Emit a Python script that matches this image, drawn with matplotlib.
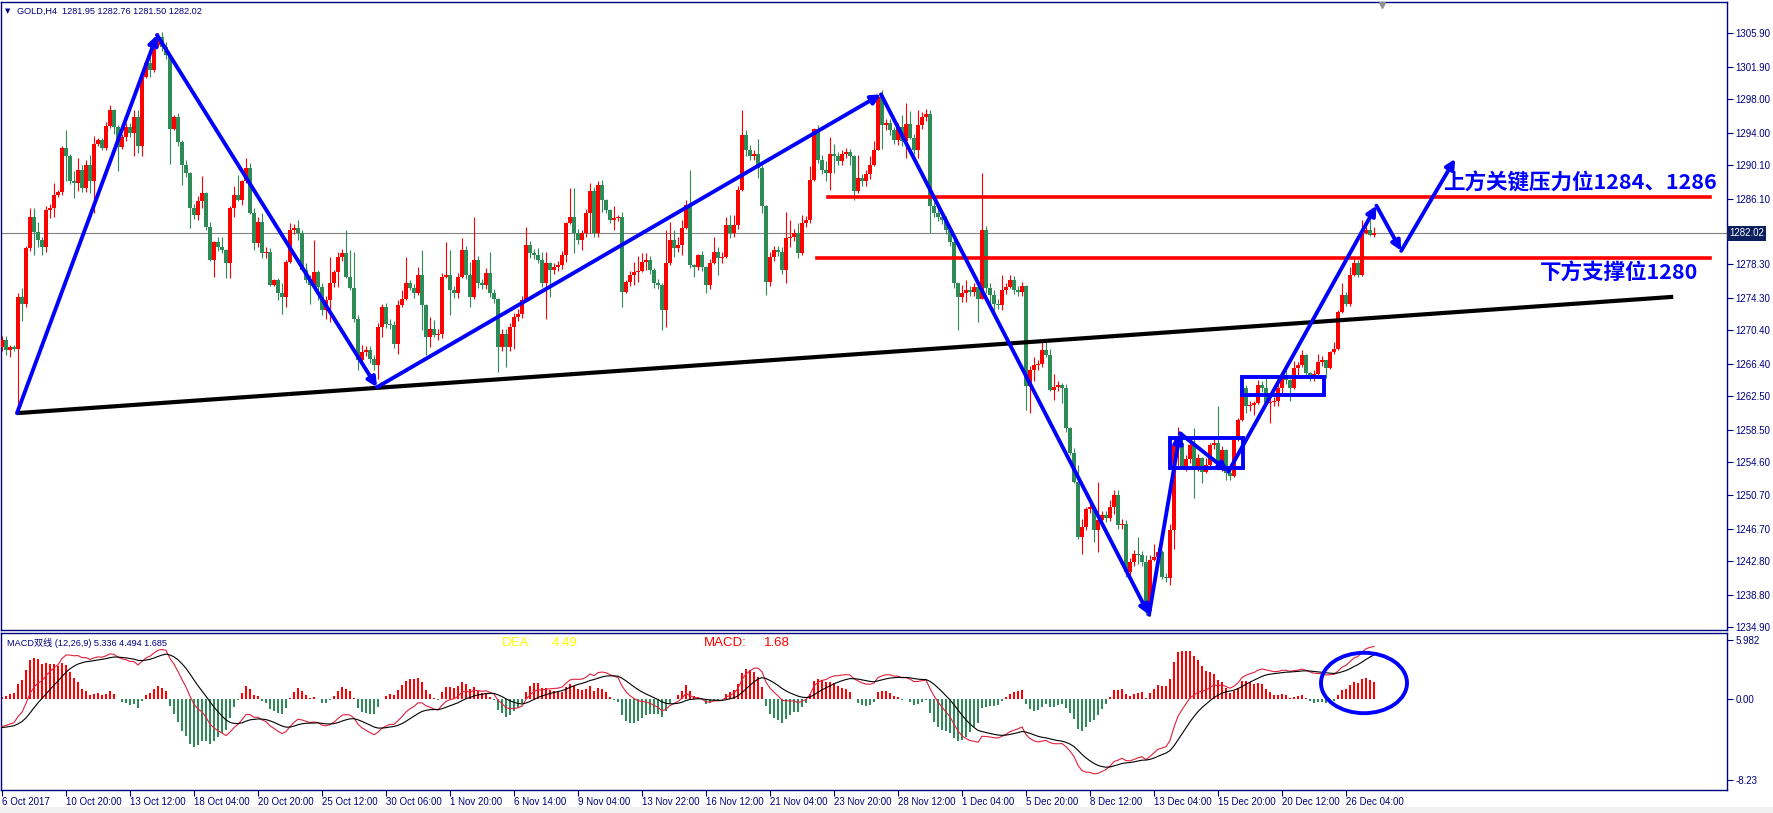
import numpy as np
import matplotlib.pyplot as plt
from matplotlib.patches import Rectangle, Ellipse
from matplotlib.transforms import blended_transform_factory

# GOLD H4 closes (open = previous close)
first_open = 1268.4
closes = [
    1269.2, 1268.0, 1268.4, 1268.2, 1274.4, 1273.5, 1280.2, 1284.0, 1282.2, 1281.2,
    1280.4, 1284.8, 1285.0, 1286.6, 1286.9, 1292.2, 1291.2, 1288.2, 1288.0, 1289.6,
    1287.4, 1290.2, 1288.2, 1292.7, 1293.1, 1292.2, 1294.8, 1296.7, 1294.7, 1292.3,
    1293.5, 1294.7, 1294.0, 1295.9, 1292.4, 1300.7, 1302.3, 1301.5, 1304.5, 1305.5,
    1304.3, 1303.3, 1294.5, 1295.9, 1292.9, 1290.2, 1289.2, 1285.0, 1284.2, 1285.8,
    1286.8, 1282.8, 1278.8, 1281.0, 1280.4, 1280.0, 1278.4, 1285.0, 1286.6, 1286.0,
    1288.2, 1289.8, 1284.4, 1280.8, 1283.4, 1279.6, 1279.8, 1275.8, 1276.4, 1274.8,
    1274.4, 1278.6, 1282.4, 1282.6, 1282.0, 1277.6, 1276.4, 1275.8, 1277.4, 1275.6,
    1272.8, 1274.0, 1276.0, 1277.4, 1279.2, 1279.6, 1276.8, 1275.4, 1271.8, 1266.8,
    1267.8, 1268.0, 1267.0, 1266.2, 1270.8, 1273.2, 1271.2, 1271.0, 1268.8, 1273.4,
    1274.2, 1276.0, 1275.4, 1274.8, 1277.0, 1273.4, 1269.6, 1270.6, 1269.8, 1270.0,
    1276.8, 1277.0, 1275.2, 1274.8, 1276.8, 1280.0, 1277.0, 1274.4, 1278.8, 1276.0,
    1275.8, 1277.3, 1274.8, 1274.2, 1268.4, 1270.0, 1268.4, 1270.8, 1272.0, 1272.4,
    1274.0, 1280.6, 1279.6, 1279.4, 1278.8, 1276.0, 1278.4, 1277.6, 1278.0, 1278.2,
    1279.4, 1283.2, 1284.0, 1282.0, 1281.2, 1282.0, 1284.4, 1287.0, 1282.0, 1287.8,
    1286.0, 1284.8, 1283.6, 1283.8, 1283.9, 1275.0, 1276.2, 1277.0, 1277.4, 1277.5,
    1278.6, 1278.8, 1277.6, 1276.0, 1275.8, 1272.8, 1278.4, 1281.2, 1280.2, 1280.6,
    1282.6, 1285.4, 1278.2, 1278.0, 1279.4, 1278.0, 1275.8, 1278.4, 1279.8, 1279.0,
    1279.2, 1283.0, 1282.0, 1283.0, 1287.2, 1293.7, 1292.0, 1291.2, 1291.5, 1289.8,
    1285.2, 1276.2, 1279.2, 1280.0, 1279.8, 1277.6, 1281.4, 1281.6, 1282.0, 1279.6,
    1283.2, 1283.6, 1288.4, 1294.5, 1290.8, 1289.6, 1289.2, 1291.5, 1291.2, 1290.6,
    1291.5, 1291.7, 1291.2, 1287.0, 1288.6, 1288.2, 1289.1, 1290.2, 1292.0, 1298.3,
    1294.9, 1295.2, 1294.3, 1293.1, 1294.7, 1293.0, 1295.0, 1293.4, 1292.0, 1294.9,
    1295.9, 1296.3, 1285.2, 1284.4, 1284.0, 1283.6, 1282.4, 1281.0, 1276.0, 1274.4,
    1274.8, 1275.2, 1275.0, 1275.6, 1274.2, 1282.4, 1275.4, 1274.6, 1273.6, 1273.4,
    1275.2, 1275.6, 1276.4, 1275.2, 1275.0, 1275.7, 1263.7, 1265.7, 1266.2, 1266.4,
    1268.0, 1267.4, 1263.3, 1263.6, 1263.9, 1263.5, 1258.7, 1255.7, 1252.3, 1245.7,
    1246.9, 1249.1, 1249.3, 1246.5, 1247.7, 1248.3, 1248.0, 1249.3, 1250.7, 1247.1,
    1247.3, 1241.5, 1242.7, 1243.7, 1243.5, 1242.7, 1236.8, 1243.0, 1243.3, 1243.9,
    1240.9, 1240.8, 1246.5, 1256.7, 1256.9, 1254.1, 1255.0, 1256.7, 1254.1, 1255.1,
    1253.5, 1254.3, 1256.7, 1256.9, 1254.1, 1256.1, 1253.3, 1253.0, 1257.3, 1259.7,
    1263.5, 1261.3, 1261.5, 1261.7, 1263.9, 1263.5, 1261.7, 1261.8, 1261.9, 1263.5,
    1265.1, 1264.5, 1263.5, 1265.9, 1266.2, 1267.4, 1265.3, 1264.9, 1265.2, 1266.6,
    1266.8, 1265.9, 1267.8, 1268.2, 1272.6, 1274.6, 1273.5, 1277.0, 1278.4, 1277.0,
    1282.0, 1282.4, 1281.8, 1282.02,
]
# upper / lower shadow length above / below the body
wick_up = [
    .5, .5, .3, .3, .5, 1.0, .3, 1.0, 1.0, 1.2, .3, .4, .5, 1.4, .3, .2, 2.2, .3, 1.2, 1.4,
    .5, .5, 1.2, .9, .3, .3, .5, .6, .2, .2, .4, .5, .5, .8, .8, .1, .2, 1.0, .6, .4,
    .5, .5, .1, .2, .5, .2, .5, .1, .5, .6, 2.0, .1, .6, .1, .5, 1.2, .1, .2, 1.0, 2.4,
    .2, 1.2, .6, .6, .5, 1.0, .5, .4, .1, .2, 1.2, .2, .8, .5, 1.0, .4, .8, .6, 3.8, .2,
    .4, .5, 3.2, .2, .6, .5, 2.8, 3.2, 4.4, .4, .8, .5, .5, .5, .5, .4, .5, .5, .5, .6,
    1.0, 3.2, .4, .5, 1.0, 3.0, .1, 1.4, 1.0, .5, .5, 4.0, 3.0, .5, .5, 1.4, .5, 1.6, 5.2, .5,
    .5, .5, 2.4, .5, .1, .5, .5, .5, .5, .5, .5, 2.2, .5, .5, .8, 1.0, 1.4, .2, .5, .5,
    .5, .1, 3.4, 3.4, .5, .4, .5, 1.0, .5, .5, .6, .1, .1, 1.4, .3, .6, .2, .5, 1.2, 1.8,
    1.0, .8, .5, .2, .5, .2, 4.0, 2.2, 1.2, 1.0, 1.0, .6, 4.2, .1, .1, .5, .1, .5, 1.8, .6,
    .5, 1.0, 1.2, 1.2, .5, 3.0, .6, .5, .5, 1.8, .4, .2, .5, .5, .5, .5, 3.2, 2.0, .5, 1.2,
    1.0, .5, 1.6, .1, .4, .5, 1.0, 2.0, 1.2, .5, .5, .5, .4, .2, 2.8, .5, .5, 1.0, 1.0, .1,
    .8, .5, .5, .4, .5, 1.4, 2.6, 1.6, .5, 1.8, .6, .5, .4, .5, .5, .5, .5, .5, .5, .1,
    1.0, 1.2, .5, .5, .1, 6.8, .5, .6, .6, .5, 1.8, .5, .6, .5, .5, .5, .1, .4, 1.0, .5,
    1.0, 1.0, .8, 1.6, .5, .2, .5, .1, .6, 2.0, 1.0, .2, .5, .1, 4.6, .5, .5, .8, .6, .6,
    .5, .4, .5, .5, 2.0, .5, .8, .5, 1.6, .5, .2, .5, .8, .8, 2.0, 1.4, .5, .5, 2.0, .5,
    .1, .8, .2, .5, 4.4, .5, .1, .5, .4, .2, .4, .4, .5, .2, .6, .5, 1.6, .4, .5, .5,
    .2, .5, .1, .8, .4, .6, .2, .1, .5, 1.0, .5, .1, .1, .8, .2, 1.4, .4, 1.0, .6, .4,
    1.6, 1.2, 1.2, .74,
]
wick_dn = [
    .5, .5, .8, .3, 6.9, 2.0, .3, .3, 2.8, .8, 1.0, .6, 1.0, 1.0, .3, .3, 3.0, .3, 1.8, 1.0,
    .5, .5, 1.4, 3.8, .3, .3, .3, .2, .8, 2.8, .2, .5, .5, 2.8, .8, 1.2, .1, .8, .2, .2,
    .5, .5, 4.2, .1, .5, 2.4, .5, 2.4, .5, .6, .8, .4, .1, 2.0, .5, .4, 1.8, 1.8, 1.0, .2,
    .6, .2, .1, .8, .5, .6, .5, .1, .1, .8, 2.0, 1.2, .1, .5, .8, .1, .4, 2.2, .1, 1.6,
    .6, 1.0, 2.6, .4, 1.8, .5, .1, .2, .4, 1.2, .4, .5, .5, .5, 1.6, 1.2, .5, .5, .5, 1.2,
    .2, .2, .2, .5, .2, 3.0, 2.2, 1.2, .2, .5, .5, .2, 3.0, .5, .5, .2, .5, 1.2, .2, .5,
    .5, .5, .4, .5, 3.0, .5, 2.4, .5, 2.6, .5, .5, .1, .5, .5, .4, .4, 4.2, 3.2, .5, .5,
    .5, .8, .1, 2.4, .5, 1.2, .5, 2.4, .5, .5, 1.4, .4, .4, 1.2, .3, 1.8, .2, .5, 1.2, 1.2,
    .1, 1.0, .5, .6, .5, 2.4, 2.0, .2, 1.0, .4, 1.2, .1, .4, 1.2, .4, .5, 1.0, .5, .1, 2.0,
    .5, .1, .6, .4, .5, .2, .8, .5, .5, 1.2, .8, 1.6, .5, .5, .5, .5, 1.6, 1.0, .5, .6,
    .2, .5, .4, .1, .4, .5, 1.0, 2.0, 2.0, .5, .5, .5, 1.0, 1.0, .2, .5, .5, .6, .2, .1,
    2.8, .5, .5, .4, .5, .6, 2.0, .1, .5, 1.0, .4, .5, 3.2, .5, .5, .5, .5, .5, .5, 4.0,
    .6, 1.0, .5, .5, 2.8, .1, .5, 1.4, 1.6, .5, .6, .5, .2, .5, .5, .5, 2.8, 3.2, 1.4, .5,
    .4, .2, .2, 1.2, .5, 1.8, .5, .2, .1, .2, 2.0, .4, .5, 1.4, 2.6, .5, .5, .4, .8, .4,
    .5, .6, .5, .5, 1.0, .5, .4, .5, .2, .5, .2, .5, .8, 2.2, 2.6, .1, .5, .5, 3.8, .5,
    1.4, .1, .4, .5, .4, .5, .8, .5, .1, .1, .1, .8, .5, 1.2, .1, .5, .1, 2.4, .5, .5,
    .8, .5, 1.6, .1, 1.2, .2, .2, .6, .5, .1, .5, 1.2, .1, .2, .1, .1, .2, .2, .1, .2,
    .1, .1, .1, .3,
]

time_labels = ["6 Oct 2017", "10 Oct 20:00", "13 Oct 12:00", "18 Oct 04:00", "20 Oct 20:00",
               "25 Oct 12:00", "30 Oct 06:00", "1 Nov 20:00", "6 Nov 14:00", "9 Nov 04:00",
               "13 Nov 22:00", "16 Nov 12:00", "21 Nov 04:00", "23 Nov 20:00", "28 Nov 12:00",
               "1 Dec 04:00", "5 Dec 20:00", "8 Dec 12:00", "13 Dec 04:00", "15 Dec 20:00",
               "20 Dec 12:00", "26 Dec 04:00"]
price_ticks = [1305.90, 1301.90, 1298.00, 1294.00, 1290.10, 1286.10, 1278.30, 1274.30,
               1270.40, 1266.40, 1262.50, 1258.50, 1254.60, 1250.70, 1246.70, 1242.80,
               1238.80, 1234.90]
macd_ticks = [5.982, 0.0, -8.23]
macd_tick_labels = ["5.982", "0.00", "-8.23"]
last_price = 1282.02

# drawn objects on the chart (bar index, price)
zigzag = [(3.75, 1260.5), (38.75, 1305.7), (93.75, 1263.6), (219.75, 1298.6),
          (286.75, 1236.4), (294.5, 1258.1), (306.6, 1253.5), (343.6, 1285.3),
          (349.8, 1279.9), (363.3, 1290.9)]
trend_line = [(3.75, 1260.5), (417.8, 1274.4)]
resist_line = (206.5, 427.0, 1286.3)
support_line = (203.75, 427.0, 1279.1)
boxes = [(292.0, 310.25, 1253.9, 1257.5), (310.0, 330.5, 1262.7, 1264.8)]

NAVY = "#000080"
RED = "#FF0000"
GREEN = "#2E8B57"
BLUE = "#0000FF"

# candles
c = np.array(closes)
o = np.r_[first_open, c[:-1]]
hi = np.maximum(o, c) + np.array(wick_up)
lo = np.minimum(o, c) - np.array(wick_dn)
x = np.arange(len(c))
cols = np.where(c >= o, RED, GREEN)

dif0, dea0 = -3.0, -2.9
ema12, ema26, dea = c[0], c[0] - dif0, dea0
dif_vals, dea_vals = [], []
for v in c:
    ema12 += 2 / 13 * (v - ema12)
    ema26 += 2 / 27 * (v - ema26)
    d = ema12 - ema26
    dea += 2 / 10 * (d - dea)
    dif_vals.append(d)
    dea_vals.append(dea)
dif_vals = np.array(dif_vals)
dea_vals = np.array(dea_vals)
hist = 2 * (dif_vals - dea_vals)

W, H = 1773, 813
fig = plt.figure(figsize=(W / 100, H / 100), dpi=100)
fig.patches.append(Rectangle((0, 0), 1, 6 / H, transform=fig.transFigure,
                             facecolor="#F0F0F0", edgecolor="none"))

ax = fig.add_axes([1 / W, (H - 630) / H, 1726 / W, 628 / H])
ax2 = fig.add_axes([1 / W, 23 / H, 1726 / W, 157 / H])

xmin, xmax = -0.25, 431.25
ax.set_xlim(xmin, xmax)
ax.set_ylim(1234.58, 1309.64)
ax2.set_xlim(xmin, xmax)
ax2.set_ylim(-9.19, 6.67)

# current price line
ax.axhline(last_price, color="#808080", lw=0.8, zorder=1)

ax.vlines(x, lo, hi, colors=cols, lw=0.8, zorder=2)
ax.bar(x, np.maximum(np.abs(c - o), 0.12), bottom=np.minimum(o, c), width=0.8,
       color=cols, linewidth=0, zorder=3)

# trend line, levels, boxes
ax.plot([p[0] for p in trend_line], [p[1] for p in trend_line], color="black",
        lw=3, solid_capstyle="butt", zorder=4)
for x0, x1, y in (resist_line, support_line):
    ax.plot([x0, x1], [y, y], color=RED, lw=2.6, zorder=4)
for x0, x1, y0, y1 in boxes:
    ax.add_patch(Rectangle((x0, y0), x1 - x0, y1 - y0, fill=False, edgecolor=BLUE,
                           lw=2.8, zorder=5))

for (xa, ya), (xb, yb) in zip(zigzag[:-1], zigzag[1:]):
    ax.annotate("", xy=(xb, yb), xytext=(xa, ya),
                arrowprops=dict(arrowstyle="-|>,head_length=0.5,head_width=0.25",
                                color=BLUE, lw=2.8, shrinkA=0, shrinkB=0,
                                mutation_scale=11), zorder=6)

cjk = ["Noto Sans CJK SC", "DejaVu Sans"]
ax.text(360.25, 1288.1, "上方关键压力位1284、1286", color=BLUE, fontsize=15.5,
        fontweight="bold", family=cjk, va="center", ha="left", zorder=7)
ax.text(384.5, 1277.25, "下方支撑位1280", color=BLUE, fontsize=15.5,
        fontweight="bold", family=cjk, va="center", ha="left", zorder=7)

ax.text(4 / 1726, 1 - 9 / 628, "\u25BC", transform=ax.transAxes, color=NAVY,
        fontsize=5, va="center", ha="left", family="DejaVu Sans")
ax.text(16 / 1726, 1 - 9 / 628, "GOLD,H4  1281.95 1282.76 1281.50 1282.02",
        transform=ax.transAxes, color=NAVY, fontsize=6.6, va="center", ha="left",
        family="Liberation Sans")
ax.plot([345], [1309.3], marker="v", color="#909090", ms=5, clip_on=False, zorder=8)

# price axis on the right
ax.yaxis.tick_right()
ax.set_yticks(price_ticks)
ax.set_yticklabels([f"{p:.2f}" for p in price_ticks])
ax.tick_params(axis="y", length=4, width=0.8, color=NAVY, labelcolor=NAVY,
               labelsize=7, pad=2)
for lab in ax.get_yticklabels():
    lab.set_family("Liberation Sans")
ax.set_xticks([])
tr = blended_transform_factory(ax.transAxes, ax.transData)
ax.text(1.0012, last_price, "1282.02", transform=tr, color="white", fontsize=7,
        family="Liberation Sans", va="center", ha="left",
        bbox=dict(boxstyle="square,pad=0.25", facecolor="#0B1F5E", edgecolor="none"))

# MACD panel
hcols = np.where(hist >= 0, RED, GREEN)
ax2.bar(x, hist, width=0.62, color=hcols, linewidth=0, zorder=2)
ax2.plot(x, dif_vals, color="#E0203C", lw=0.8, zorder=3)
ax2.plot(x, dea_vals, color="black", lw=0.8, zorder=3)
ax2.add_patch(Ellipse((340.5, 1.62), 21.5, 6.1, fill=False, edgecolor=BLUE, lw=2.8,
                      zorder=5))

ax2.text(6 / 1726, 1 - 10 / 157, "MACD双线 (12,26,9) 5.336 4.494 1.685",
         transform=ax2.transAxes, color=NAVY, fontsize=6.6, va="center", ha="left",
         family=["Liberation Sans", "Noto Sans CJK SC"])
for xp, s, col in [(501, "DEA:", "#FFFF00"), (551, "4.49", "#FFFF00"),
                   (703, "MACD:", RED), (763, "1.68", RED)]:
    ax2.text(xp / 1726, 1 - 10 / 157, s, transform=ax2.transAxes, color=col,
             fontsize=9.5, va="center", ha="left", family="Liberation Sans")

ax2.yaxis.tick_right()
ax2.set_yticks(macd_ticks)
ax2.set_yticklabels(macd_tick_labels)
ax2.tick_params(axis="y", length=4, width=0.8, color=NAVY, labelcolor=NAVY,
                labelsize=7, pad=2)
ax2.set_xticks(np.arange(len(time_labels)) * 16)
ax2.set_xticklabels(time_labels)
ax2.tick_params(axis="x", length=4, width=0.8, color=NAVY, labelcolor=NAVY,
                labelsize=7, pad=1)
for lab in ax2.get_xticklabels() + ax2.get_yticklabels():
    lab.set_family("Liberation Sans")
for lab in ax2.get_xticklabels():
    lab.set_horizontalalignment("left")

for a in (ax, ax2):
    for sp in a.spines.values():
        sp.set_color(NAVY)
        sp.set_linewidth(1.0)

fig.savefig("out.png", dpi=100, facecolor="white")
